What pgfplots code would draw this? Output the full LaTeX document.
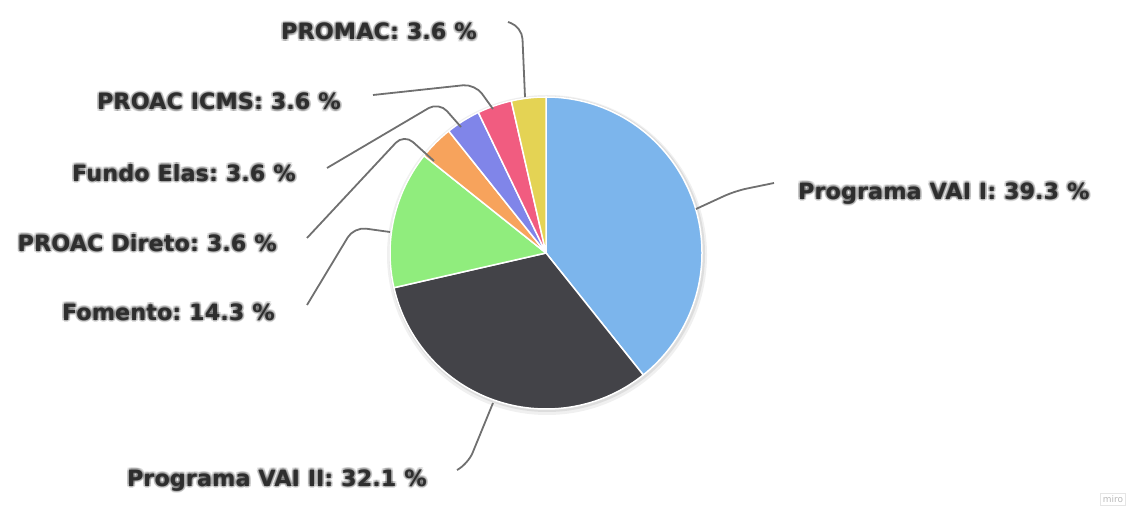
\documentclass[border=0pt]{standalone}
\usepackage{fontspec}
\setmainfont{DejaVu Sans}
\usepackage{pgfplots}
\usepackage{pgfplotstable}
\pgfplotsset{compat=1.18}
\usetikzlibrary{calc}
\frenchspacing

\definecolor{pie0}{HTML}{7CB5EC}
\definecolor{pie1}{HTML}{434348}
\definecolor{pie2}{HTML}{90ED7D}
\definecolor{pie3}{HTML}{F7A35C}
\definecolor{pie4}{HTML}{8085E9}
\definecolor{pie5}{HTML}{F15C80}
\definecolor{pie6}{HTML}{E4D354}
\definecolor{labeltext}{HTML}{2E2E2E}
\definecolor{conn}{HTML}{707070}

% counts behind the percentages (11/28 = 39.3 %, ...)
\pgfplotstableread{
label value
{Programa VAI I} 11
{Programa VAI II} 9
{Fomento} 4
{PROAC Direto} 1
{Fundo Elas} 1
{PROAC ICMS} 1
{PROMAC} 1
}\piedata

% start / end angles, clockwise from 12 o'clock
\def\piesum{0}
\pgfplotsforeachungrouped \i in {0,...,6}{%
  \pgfplotstablegetelem{\i}{value}\of\piedata
  \pgfmathsetmacro\piesum{\piesum+\pgfplotsretval}}
\def\pieang{90}
\pgfplotsforeachungrouped \i in {0,...,6}{%
  \pgfplotstablegetelem{\i}{value}\of\piedata
  \expandafter\let\csname pieS\i\endcsname\pieang
  \pgfmathsetmacro\pieang{\pieang-360*\pgfplotsretval/\piesum}
  \expandafter\let\csname pieE\i\endcsname\pieang}

% label with a blurred dark shadow
\newcommand\plabel[3]{%
  \foreach \dx/\dy in {2/0,-2/0,0/2,0/-2,1.5/1.5,-1.5/1.5,1.5/-1.5,-1.5/-1.5,0/0}
    \node[anchor=#1, text=black, opacity=0.13, inner sep=0pt] at ($(#2)+(\dx,\dy)$) {#3};
  \node[anchor=#1, text=labeltext, inner sep=0pt] at (#2) {#3};}

\begin{document}
\begin{tikzpicture}
\begin{axis}[
    scale only axis,
    width=1144bp, height=513bp,
    xmin=0, xmax=1144, ymin=0, ymax=513,
    axis lines=none, ticks=none,
    clip=false]
  % soft shadow
  \fill[black, opacity=0.06] (axis cs:547,258) circle[radius=160bp];
  \fill[black, opacity=0.08] (axis cs:547,259) circle[radius=158bp];
  \pgfplotsinvokeforeach{0,...,6}{
    \fill[pie#1, draw=white, line width=1.5bp, line join=round]
      (axis cs:546,260) -- ++(\csname pieS#1\endcsname:156bp)
      arc[start angle=\csname pieS#1\endcsname, end angle=\csname pieE#1\endcsname, radius=156bp]
      -- cycle;
  }
\end{axis}
\begin{scope}[shift={(current axis.south west)}, x=1bp, y=1bp,
    font=\fontsize{22.5}{25}\selectfont\bfseries]
  \begin{scope}[conn, line width=1.8bp, rounded corners=12bp]
    \draw (508,491) -- (522,486) -- (525,416);
    \draw (373,418) -- (475,429) -- (493,404);
    \draw (327,345) -- (439,411) -- (461,386);
    \draw (307,275) -- (404,379) -- (434,352);
    \draw (307,208) -- (354,286) -- (390,281);
    \draw (774,330) -- (735,322) -- (696,304);
    \draw (457,43) -- (468,49) -- (493,110);
  \end{scope}
  \plabel{base east}{477,473}{PROMAC: 3.6 \%}
  \plabel{base east}{341,403}{PROAC ICMS: 3.6 \%}
  \plabel{base east}{296,332}{Fundo Elas: 3.6 \%}
  \plabel{base east}{277,262}{PROAC Direto: 3.6 \%}
  \plabel{base east}{275,193}{Fomento: 14.3 \%}
  \plabel{base west}{798,314}{Programa VAI I: 39.3 \%}
  \plabel{base east}{427,27}{Programa VAI II: 32.1 \%}
  \node[draw=gray!20, text=gray!55, font=\fontsize{9}{10}\selectfont, inner sep=2.5bp] at (1113,14) {miro};
\end{scope}
\pgfresetboundingbox
\path (current axis.south west) rectangle (current axis.north east);
\end{tikzpicture}
\end{document}
